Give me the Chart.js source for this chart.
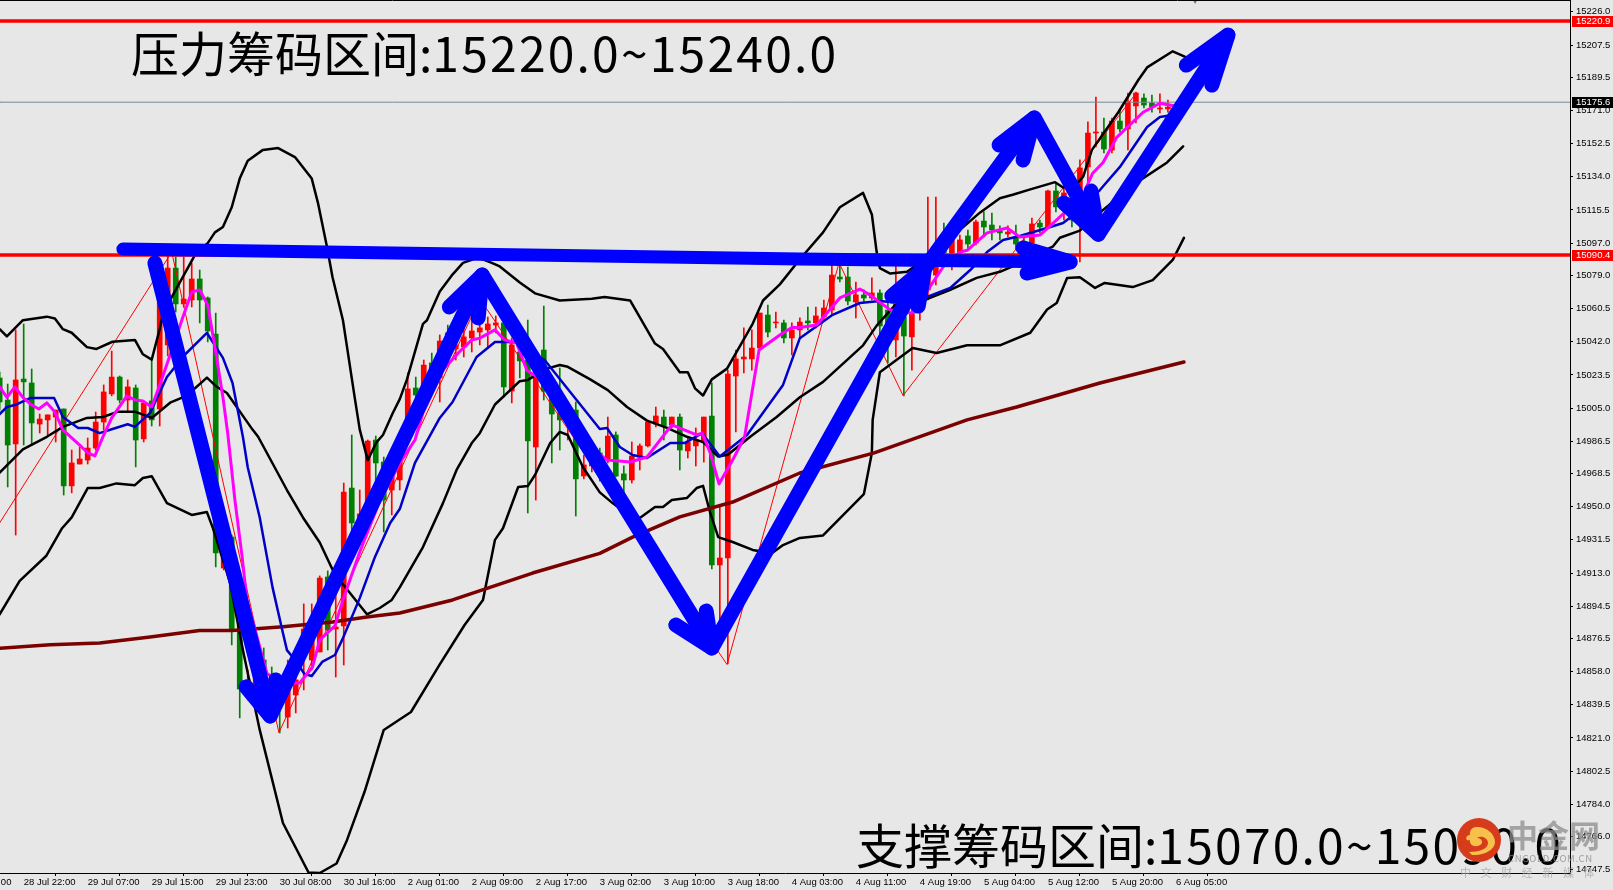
<!DOCTYPE html>
<html lang="zh">
<head>
  <meta charset="UTF-8" />
  <title>压力筹码区间</title>
  <script src="https://cdn.jsdelivr.net/npm/chart.js"></script>
  <style>
    html, body { margin: 0; background: #e7e7e7; overflow: hidden; }
    .wrap { position: relative; width: 1613px; height: 890px; }
    .note {
      position: absolute;
      font-family: "Noto Sans CJK SC", sans-serif;
      font-size: 48px;
      line-height: 60px;
      color: #000;
      white-space: nowrap;
    }
    .note span { letter-spacing: 2.2px; }
    #noteTop { left: 131px; top: 21px; }
    #noteBottom { left: 856px; top: 813px; }
    .mark { position: absolute; font-family: "Noto Sans CJK SC", sans-serif; white-space: nowrap; }
    #markName { left: 1507px; top: 812px; font-size: 31px; line-height: 44px; font-weight: 700; color: rgba(140,140,140,.75); }
    #markSite { left: 1508px; top: 852px; font-size: 9.5px; line-height: 12px; letter-spacing: .6px; color: rgba(140,140,140,.8); }
    #markLine { left: 1460px; top: 865px; font-size: 11px; line-height: 14px; letter-spacing: 9.6px; color: rgba(160,160,160,.7); }
    #markLogo { position: absolute; left: 1457px; top: 818px; width: 44px; height: 44px; }
  </style>
</head>
<body>
  <div class="wrap">
    <canvas id="chart"></canvas>
    <div class="note" id="noteTop">压力筹码区间:<span>15220.0~15240.0</span></div>
    <div class="note" id="noteBottom">支撑筹码区间:<span>15070.0~15090.0</span></div>
    <div class="mark" id="markName">中金网</div>
    <div class="mark" id="markSite">CNGOLD.COM.CN</div>
    <div class="mark" id="markLine">中文财经新媒体</div>
    <svg id="markLogo" viewBox="0 0 44 44">
      <circle cx="22" cy="22" r="22" fill="#d63c1c"/>
      <path d="M19 9 C28 8 38 15 38 24 C38 32 26 38 15 37 L12 34 C22 34 31 31 31 25 C31 20 24 17 20 20 C25 20 27 25 23 27 C18 30 12 27 13 22 C8 24 8 17 13 17 C12 12 16 9 19 9 Z" fill="#f6c04a"/>
    </svg>
  </div>

  <script>
    const yTicks = [15226, 15207.5, 15189.5, 15171, 15152.5, 15134, 15115.5, 15097, 15079, 15060.5, 15042, 15023.5, 15005,
      14986.5, 14968.5, 14950, 14931.5, 14913, 14894.5, 14876.5, 14858, 14839.5, 14821, 14802.5, 14784, 14766, 14747.5];
    const timeBars = [-5, 3, 11, 19, 27, 35, 43, 51, 59, 67, 75, 83, 91, 99, 107, 115, 123, 131, 139, 147];
    const timeLabels = ['28 Jul 14:00', '28 Jul 22:00', '29 Jul 07:00', '29 Jul 15:00', '29 Jul 23:00', '30 Jul 08:00', '30 Jul 16:00',
      '2 Aug 01:00', '2 Aug 09:00', '2 Aug 17:00', '3 Aug 02:00', '3 Aug 10:00', '3 Aug 18:00', '4 Aug 03:00', '4 Aug 11:00',
      '4 Aug 19:00', '5 Aug 04:00', '5 Aug 12:00', '5 Aug 20:00', '6 Aug 05:00'];

    const resistanceLevel = 15220.9;
    const supportLevel = 15090.4;
    const lastPrice = 15175.6;

    // one entry per bar
    const opens = [15021.8,15009.5,14985,15021.2,15019,14996.1,14998.4,15000,15004.5,14961.6,
      14973.8,14976,14982.7,14997.2,15012.9,15022.3,15009.5,15016.2,14987.8,15009,
      15004.5,15040.2,15083.1,15063.1,15065.3,15077,15066.4,15046.3,14915.8,14933.1,
      14884,14847.8,14842.2,14864.5,14853.4,14848.9,14832.7,14845,14870.1,14864.5,
      14869,14910.8,14881.8,14883.5,14960.4,14937,14946.5,14987.2,14974.9,14959.3,
      14964.9,14998.4,15016.2,15006.7,15030.2,15021.8,15046.9,15038,15039.1,15044.1,
      15047.4,15048.6,15051.3,15052.5,15014.5,15036.3,15031.8,14983.3,15037.4,15015.1,
      15002.3,14996.7,15003.9,14967.1,14972.7,14980,14976.6,14990,14968.3,14964.9,
      14977.7,14983.9,14996.1,15000,14995.6,15000,14981.1,14983.9,14986.1,15000.6,
      14917.5,14921.4,15022.9,15032.4,15032.4,15038.5,15056.9,15052.5,15052.5,15044.1,
      15048.6,15053.6,15052.5,15055.8,15059.7,15078.1,15078.1,15064.2,15068.1,15066.4,
      15069.2,15059.7,15043,15055.8,15044.7,15059.7,15070.9,15079.2,15098.8,15091.5,
      15091.5,15101,15097.1,15109.3,15107.1,15103.8,15102.1,15099.9,15097.1,15097.1,
      15108.2,15106,15126.1,15115.5,15122.2,15125.5,15139.5,15158.4,15159,15148.9,
      15165.1,15160.7,15173.5,15177.9,15175.2,15171.8,15171.8];
    const closes = [15008.4,14984.4,15020.7,15019.6,14996.7,14998.9,15001.2,15003.9,14961.6,14974.4,
      14976.6,14982.7,14997.2,15014,15022.3,15009.5,15016.8,14987.2,15007.9,14998.4,
      15066.4,15083.1,15063.1,15065.8,15077,15065.3,15048,14924.2,14931.4,14881.8,
      14848.3,14853.4,14858.9,14853.4,14842.2,14838.3,14847.8,14853.4,14881.8,14882.4,
      14910.2,14881.2,14882.9,14958.2,14940.9,14946,14986.6,14974.4,14953.7,14970.5,
      14977.7,15015.7,15012.3,15029,15019,15042.4,15040.2,15040.2,15044.7,15048,
      15049.7,15051.9,15052.5,15016.8,15040.2,15031.3,14986.7,15030.2,15014.5,15001.7,
      14998.4,15000,14965.5,14973.3,14977.7,14973.3,14989.4,14967.1,14964.9,14978.3,
      14983.9,14997.2,15000.6,14995,15000,14981.6,14986.1,14987.2,15000,14917.5,
      14921.4,15024,15032.4,15033.5,15038.5,15058,15047.4,15053,15044.1,15048.6,
      15053,15052.5,15056.4,15060.8,15079.2,15077,15064.7,15068.1,15066.4,15069.2,
      15050.8,15045.8,15065.3,15045.2,15058,15069.2,15090.4,15090.4,15091.5,15098.8,
      15098.8,15096.5,15108.8,15106,15104.3,15102.7,15103.2,15096.5,15091.5,15107.7,
      15106,15126.1,15117.2,15125,15109.9,15138.9,15158.4,15159,15149.5,15165.1,
      15160.7,15175.7,15180.7,15174,15172.9,15172.4,15172.9];
    const highs = [15025.1,15018.4,15048.6,15051.9,15026.8,15001.7,15001.2,15003.9,15004.5,14981.6,
      14983.3,14988.3,15002.8,15017.9,15036.8,15022.9,15020.7,15017.9,15008.4,15032.4,
      15082,15090.4,15089.3,15089.3,15085.9,15082,15067,15058,14937,14934.2,
      14886.8,14858.9,14864.5,14871.2,14860.6,14853.4,14864.5,14861.7,14895.8,14895.8,
      14911.4,14914.2,14901.9,14963.2,14990,14959.3,14987.2,14989.4,14977.7,14978.8,
      14981.6,15024.6,15022.3,15031.8,15035.7,15045.8,15051.3,15044.7,15050.2,15054.1,
      15054.7,15055.8,15056.4,15055.3,15044.1,15041.9,15054.1,15033.5,15061.9,15019,
      15027.4,15003.9,15008.4,14978.8,14982.7,14982.7,15000,14991.7,14972.7,14986.1,
      14985,14997.8,15005.6,15003.9,15000,15001.7,14988.3,14993.9,15000,15019,
      14949.8,15026.2,15037.4,15049.7,15048.6,15058,15062.5,15058.6,15054.1,15052.5,
      15055.3,15061.4,15061.4,15065.3,15085.9,15084.8,15083.7,15075.3,15070.9,15077.6,
      15070.9,15065.3,15084.8,15065.3,15063.6,15084.8,15122.7,15122.7,15108.2,15101.5,
      15101.5,15104.3,15109.9,15114.4,15113.8,15106.6,15106.6,15107.1,15101.5,15111,
      15109.9,15126.6,15130.5,15128.3,15125.5,15143.4,15164.6,15178.5,15166.8,15166.8,
      15171.3,15180.7,15181.3,15180.2,15179.6,15180.2,15176.8];
    const lows = [15003.9,14961,14934.2,14984.4,14984.4,14991.1,14990,14986.1,14956.5,14957.7,
      14973.8,14973.8,14981.6,14992.8,15011.8,15007.9,15002.8,14972.2,14986.1,14995,
      14995,15034.1,15058.6,15061.4,15061.4,15052.5,15041.9,14916.4,14914.7,14872.9,
      14832.2,14842.2,14835.5,14842.2,14831,14823.8,14826.6,14835,14847.8,14858.9,
      14869,14870.1,14855,14861.7,14931.4,14928.7,14942.6,14959.3,14935.9,14945.4,
      14959.3,14992.8,15007.9,15003.9,15015.1,15008.4,15031.8,15031.8,15033.5,15036.3,
      15040.2,15038.5,15046.9,15011.2,15007.9,15021.8,14946.5,14953.7,15009.5,14974.4,
      14981.6,14987.2,14944.8,14965.5,14969.4,14964.3,14974.4,14966.6,14957.7,14963.2,
      14970.5,14983.3,14994.5,14987.2,14993.9,14970.5,14977.2,14972.7,14974.9,14915.3,
      14875.7,14862.3,14991.7,15024.6,15026.2,15037.4,15044.7,15049.7,15041.3,15034.6,
      15044.1,15048.6,15049.7,15054.1,15056.9,15075.3,15062.5,15055.3,15064.2,15065.3,
      15045.8,15030.2,15033.5,15011.8,15026.2,15054.1,15065.3,15073.7,15087.6,15082,
      15090.4,15093.2,15096,15100.4,15098.8,15098.8,15100.4,15093.2,15082,15093.2,
      15102.7,15105.4,15114.4,15109.9,15106,15086.5,15123.8,15150.6,15147.3,15147.3,
      15159,15149,15164,15172.4,15170.1,15169.6,15170.1];

    // [bar, price]
    const bandUpper = [[0,15049],[0.9,15045],[2.9,15054],[5.9,15056],[6.9,15055],[7.9,15049],[9,15047],[10.9,15039],[12.1,15038],[14.1,15042],
      [16.9,15043],[17.9,15035],[19,15032],[20,15049],[20.4,15058],[22.5,15075],[24.6,15092],[26,15097],[26.9,15103],[27.9,15106],
      [29,15117],[30,15133],[31,15143],[32.9,15149],[34.8,15150],[36.9,15145],[39,15133],[39.8,15119],[40.9,15095],[41.6,15078],
      [42.9,15054],[44.4,15010],[45,14993],[46,14976],[47.1,14986],[47.9,14990],[49.1,15002],[50,15010],[50.9,15021],[52.9,15052],
      [53.4,15054],[55,15070],[56.5,15079],[57.9,15086],[59.8,15089],[61.5,15086],[62.5,15084],[65,15075],[66.9,15069],[70,15065],
      [74,15066],[75.6,15067],[78.8,15065],[81.9,15041],[82.9,15038],[85,15025],[86,15025],[86.9,15016],[87.9,15012],[89,15021],
      [90.9,15027],[94.1,15052],[95.4,15065],[97.5,15074],[100,15088],[102.9,15103],[105,15117],[107.9,15125],[109,15113],[109.6,15092],
      [110,15083],[111.3,15080],[113.4,15081],[115,15086],[116.6,15092],[119.4,15102],[122.5,15114],[125,15122],[126.6,15124],[128.8,15127],
      [131.9,15131],[132.9,15128],[134.8,15131],[135.4,15134],[136.5,15149],[139.8,15170],[142.3,15188],[143.4,15195],[146.6,15204],[148.1,15201]];
    const bandMiddle = [[0,14969],[2.9,14982],[5.9,14989],[7.9,14994.5],[10.9,14999.5],[12.9,15000],[14.8,15003],[16.9,15003],[19,14999.5],[21.3,15008],
      [23.4,15012],[25.9,15022],[27.1,15017],[28.4,15013.4],[31.6,14993],[32.3,14989],[35.9,14959.3],[37.9,14944],[40,14930],[41.9,14912],
      [43.4,14904],[45.9,14890],[47.5,14893.5],[49,14898],[50,14905],[52.9,14927.5],[55.4,14952],[57.1,14970.5],[59,14985.5],[60,14991],
      [61.9,15007],[65,15020],[66,15020.7],[68.4,15027],[70,15029],[71,15028],[73.8,15021],[76,15015],[78.4,15005.6],[80.9,14998],
      [83.4,14994],[85.9,14989],[87.9,14986],[89.8,14978],[91,14979],[93.8,14989],[97.1,15000],[100,15011],[102.9,15019.6],[107.9,15040],
      [109.6,15051],[111.9,15062.5],[115.4,15065],[118.8,15071],[122.1,15077.6],[125,15081],[126.6,15084],[129.4,15090.4],[131.6,15095],[132.5,15100],
      [135,15104],[137.5,15114],[139.1,15120],[142.5,15132],[145.9,15142],[147.9,15151]];
    const bandLower = [[0,14890],[2.5,14908.6],[5.8,14922.5],[7.8,14938],[9,14944],[11,14960.4],[12.5,14960.4],[14.6,14963],[16.9,14962],[17.9,14966],
      [19,14967],[20.9,14952],[24,14945.4],[25.9,14947],[26.6,14938.7],[28.8,14907.5],[30.4,14870],[32.5,14825.5],[35.4,14773.6],[38.6,14746],
      [40,14745.7],[42.1,14751],[43.4,14764],[45.6,14791],[48,14825.5],[51.4,14835.5],[55,14862],[58.1,14884],[60.4,14898],[61.9,14931.5],
      [62.9,14938],[64.8,14961],[66,14961.5],[66.9,14967.7],[68.8,14985.5],[70,14991.7],[71,14990],[72.9,14972],[75,14958],[76.6,14952],
      [78.4,14946],[80,14943.7],[81.9,14949.8],[82.9,14949.8],[84,14953.7],[85.9,14954.9],[87.1,14960.4],[87.9,14961.6],[88.8,14946.5],[89.8,14933],
      [91.6,14930.3],[94.1,14925.9],[96.5,14924],[97.9,14928.6],[100,14932.6],[102.9,14934],[108,14957],[109,14980],[109.1,14998.4],[110,15025],
      [114.1,15038.5],[117.1,15035.7],[120.9,15040],[125,15040],[128.8,15047],[130.9,15060],[132.1,15063.6],[133.4,15077.6],[135,15078],[136.9,15072],
      [138.1,15074.8],[141.6,15072.5],[144.1,15076.4],[146.6,15087.6],[148,15099.9]];
    const fastAverage = [[0,15016.8],[0.9,15011],[1.9,15016.8],[2.9,15011],[4,15006.7],[4.9,15004.5],[5.9,15007.9],[6.9,15002.8],[7.9,14992.8],[10,14984.4],
      [11,14980],[11.9,14978.3],[12.9,14988.9],[14,14999.5],[15.9,15011.8],[16.9,15009.5],[17.9,15009],[19,15005.6],[20,15017.9],[21.3,15034.6],
      [22.9,15055.8],[24,15069.8],[25,15070.9],[26,15062.5],[26.9,15039],[27.9,15011],[28.5,14991],[29.4,14953.7],[30.3,14922],[30.9,14898],
      [33.4,14857],[35.3,14851.7],[37.5,14851.7],[39.1,14860.6],[40,14875.7],[41.9,14883.5],[42.9,14898],[45,14924.7],[47.3,14951],[50,14974.4],
      [51.9,14987.2],[52.9,15002.3],[55.4,15026.2],[57.3,15035.7],[59,15043],[60,15044],[61.9,15048.6],[63.1,15043],[64.6,15041.3],[65.9,15026],
      [67.3,15022],[70,15012],[72.5,14992.8],[74.4,14981.6],[75.9,14976],[78.8,14974.9],[80.9,14977.7],[84,14995.6],[87.1,14990],[87.8,14991],
      [88.8,14980],[89.9,14962.7],[91.6,14976],[93.1,14989],[94.9,15037.4],[97.5,15045.8],[99,15050],[100,15050],[102.1,15051.3],[105,15066.4],
      [107.5,15071.4],[108.8,15068],[111.3,15059.7],[114,15058],[116,15070.9],[117.9,15083.7],[120,15092],[120.9,15093],[123.4,15102.7],[125.9,15105.4],
      [127.5,15100.4],[130,15101.5],[132.1,15110],[133.8,15117],[135.4,15124],[136.6,15136],[137.9,15142],[139.6,15156],[142.9,15170],[145,15175],[146.9,15173.5]];
    const slowAverage = [[0,15001.7],[0.9,15005.6],[1.9,15006.7],[3.8,15010.6],[5,15010.6],[6.8,15010.6],[7.9,15000],[9.8,14993.9],[11,14993.9],[12.5,14991],
      [14.1,14993.3],[16,14996],[16.9,14994.5],[18.8,15002.3],[20.9,15022.3],[23.1,15034.6],[25.9,15046.9],[27.9,15033],[29.1,15019],[30.4,14988.9],
      [31,14972],[32.5,14944],[34.1,14905],[35.4,14879.6],[35.9,14870],[36.9,14864.5],[38.1,14856.7],[39,14855.6],[40.3,14863.4],[41.9,14867.3],
      [42.8,14875.7],[45,14899],[46.9,14922],[48.8,14940.9],[50,14948.7],[51.9,14974.4],[55,14999.5],[56.6,15008.4],[59.6,15033.5],[61.9,15041.9],
      [64.4,15041.9],[65.9,15037.4],[68.1,15031.8],[72.1,15009.5],[75,14993.3],[75.9,14993.9],[77.5,14983.3],[79.1,14978.8],[80.9,14977.2],[83.8,14985.5],
      [85.6,14985.5],[87.8,14991],[90,14978],[93.4,14990],[97.9,15017.9],[100,15044],[104.1,15057],[107.5,15063.6],[110,15064.7],[111.6,15064],
      [115.9,15067],[118.8,15072],[121.3,15082],[123.4,15092],[125.4,15098.7],[127.5,15101],[130.9,15105.4],[132.9,15108.2],[135,15115.5],[137.5,15126.6],
      [140,15139.5],[143.4,15161.8],[145,15167.3],[146.6,15168.5]];
    const longAverage = [[0,14871],[6.3,14873],[12.5,14874],[18.8,14877.3],[25,14881],[29.1,14881],[35.4,14883],[41.6,14885.7],[45.9,14888.5],[50,14890.7],
      [56.6,14898],[66.6,14913],[75,14924],[79.1,14933],[85,14944.3],[91.6,14952.6],[100,14968.8],[109.3,14980],[120.9,14998.4],[127.1,15005.6],[137.5,15019],[148,15030.7]];
    const zigzag = [[0,14941],[21.5,15092],[34.9,14824],[60,15066],[90.9,14862],[104.9,15086],[112.9,15012],[142.1,15181]];

    // hand drawn arrows on top of the chart
    const sweepPath = [[19.4,15085.9],[33.8,14833.3],[60.3,15079.2],[89,14871.2],[115.6,15083],[129.3,15166.8],[137.3,15102],[153.5,15213]];
    const levelPath = [[15.4,15093.7],[100,15088.2],[133.8,15086.5]];
    const arrowHeads = [
      [[30.8,14849.5],[33.8,14833.3],[34.5,14853.4]],
      [[56.2,15061.4],[60.3,15079.2],[59.8,15055.3]],
      [[84.5,14884],[89,14871.2],[88.3,14891.8]],
      [[111.5,15067.5],[115.6,15083],[114.8,15061.9]],
      [[124.9,15151.7],[129.3,15166.8],[127.9,15143.4]],
      [[133,15119.4],[137.3,15102],[136.4,15126]],
      [[148.3,15196.3],[153.5,15213],[151.5,15185.2]],
      [[127.9,15094.3],[133.8,15086.5],[128.4,15080.3]]
    ];
    const shiftMarkBar = 149.4;

    const xMin = 0.04;
    const xMax = 196.25;
    const yMin = 14745.7;
    const yMax = 15232.6;
    const UP = '#ff0000';
    const DOWN = '#008000';

    const toPoints = pairs => pairs.map(([x, y]) => ({ x, y }));
    const candleColors = closes.map((c, i) => (c >= opens[i] ? UP : DOWN));

    function lineSet(pairs, color, width, order) {
      return {
        type: 'line', data: toPoints(pairs), borderColor: color, borderWidth: width,
        pointRadius: 0, tension: 0, order, borderJoinStyle: 'round', borderCapStyle: 'round'
      };
    }

    const datasets = [
      {
        type: 'bar', data: highs.map((h, i) => ({ x: i, y: [lows[i], h] })),
        backgroundColor: candleColors, barThickness: 1, grouped: false, order: 12
      },
      {
        type: 'bar', data: opens.map((o, i) => ({ x: i, y: [o, closes[i]] })),
        backgroundColor: candleColors, barThickness: 5, grouped: false, order: 11
      },
      lineSet([[xMin, lastPrice], [xMax, lastPrice]], '#778899', 1, 10),
      lineSet(zigzag, '#ff0000', 1, 9),
      lineSet(bandUpper, '#000000', 2.5, 8),
      lineSet(bandMiddle, '#000000', 2.5, 8),
      lineSet(bandLower, '#000000', 2.5, 8),
      lineSet(longAverage, '#7b0000', 3.5, 7),
      lineSet(slowAverage, '#0000c8', 2.5, 6),
      lineSet(fastAverage, '#ff00ff', 3, 5),
      lineSet([[xMin, resistanceLevel], [xMax, resistanceLevel]], '#ff0000', 3.5, 4),
      lineSet([[xMin, supportLevel], [xMax, supportLevel]], '#ff0000', 3.5, 4),
      lineSet(levelPath, '#0000ff', 13, 3),
      lineSet(sweepPath, '#0000ff', 15, 2),
      ...arrowHeads.map(h => lineSet(h, '#0000ff', 15, 1)),
      {
        type: 'line', data: [{ x: shiftMarkBar, y: yMax }], pointStyle: 'triangle', rotation: 180,
        pointRadius: 4, pointBackgroundColor: '#777777', pointBorderWidth: 0, showLine: false, order: 0
      }
    ];

    const priceTags = {
      id: 'priceTags',
      afterDraw(chart) {
        const { ctx, chartArea, scales } = chart;
        ctx.save();
        ctx.strokeStyle = '#000';
        ctx.lineWidth = 1;
        ctx.beginPath();
        ctx.moveTo(0, 0.5);
        ctx.lineTo(chartArea.right, 0.5);
        ctx.stroke();
        ctx.font = '9.5px "Liberation Sans"';
        ctx.textBaseline = 'middle';
        [[resistanceLevel, '#ff0000'], [lastPrice, '#000000'], [supportLevel, '#ff0000']].forEach(([value, color]) => {
          const y = Math.round(scales.y.getPixelForValue(value));
          ctx.fillStyle = color;
          ctx.fillRect(chartArea.right + 2, y - 5, 41, 11);
          ctx.fillStyle = '#fff';
          ctx.fillText(value.toFixed(1), chartArea.right + 6, y + 0.5);
        });
        ctx.restore();
      }
    };

    new Chart(document.getElementById('chart'), {
      type: 'bar',
      data: { datasets },
      plugins: [priceTags],
      options: {
        responsive: true,
        maintainAspectRatio: false,
        animation: false,
        layout: { padding: 0, autoPadding: false },
        plugins: { legend: { display: false }, tooltip: { enabled: false } },
        scales: {
          x: {
            type: 'linear', min: xMin, max: xMax, offset: false,
            grid: { drawOnChartArea: false, color: '#000', tickLength: 3, tickWidth: 1 },
            border: { color: '#000', width: 1 },
            ticks: {
              autoSkip: false, maxRotation: 0, minRotation: 0, align: 'start', padding: 1, color: '#000',
              font: { family: '"Liberation Sans"', size: 9.5 },
              callback: v => timeLabels[timeBars.indexOf(v)]
            },
            afterBuildTicks(scale) { scale.ticks = timeBars.map(value => ({ value })); },
            afterFit(scale) { scale.height = 17; scale.paddingLeft = 0; scale.paddingRight = 0; }
          },
          y: {
            type: 'linear', position: 'right', min: yMin, max: yMax,
            grid: { drawOnChartArea: false, color: '#000', tickLength: 3, tickWidth: 1 },
            border: { color: '#000', width: 1 },
            ticks: {
              autoSkip: false, padding: 3, color: '#000',
              font: { family: '"Liberation Sans"', size: 9.5 },
              callback: v => v.toFixed(1)
            },
            afterBuildTicks(scale) { scale.ticks = yTicks.map(value => ({ value })); },
            afterFit(scale) { scale.width = 43; scale.paddingTop = 0; scale.paddingBottom = 0; }
          }
        }
      }
    });
  </script>
</body>
</html>
